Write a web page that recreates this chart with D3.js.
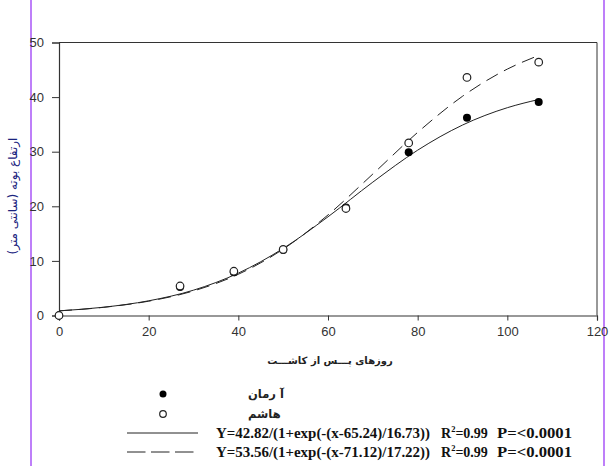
<!DOCTYPE html>
<html>
<head>
<meta charset="utf-8">
<script src="https://cdn.jsdelivr.net/npm/d3@7"></script>
<style>
  html, body { margin: 0; padding: 0; background: #fff; }
  svg { display: block; }
</style>
</head>
<body>
<svg id="chart" width="615" height="466"></svg>
<script>
// ---- data ----
const days = [0, 27, 39, 50, 64, 78, 91, 107];
const armanValues = [0, 5.2, 7.9, 12.0, 19.8, 29.9, 36.2, 39.1];
const hashemValues = [0, 5.4, 8.1, 12.1, 19.6, 31.6, 43.6, 46.4];

const curveDays = [0, 10, 20, 30, 40, 50, 60, 70, 80, 90, 100, 107];
const armanFit = [0.85, 1.52, 2.69, 4.64, 7.76, 12.28, 18.08, 24.43, 30.28, 34.88, 38.06, 39.56];
const hashemFit = [0.85, 1.50, 2.62, 4.50, 7.55, 12.15, 18.42, 25.91, 33.54, 40.15, 45.13, 47.63];

const xTicks = [0, 20, 40, 60, 80, 100, 120];
const yTicks = [0, 10, 20, 30, 40, 50];

const seriesNames = ["آ رمان", "هاشم"];
const equations = [
  "Y=42.82/(1+exp(-(x-65.24)/16.73))",
  "Y=53.56/(1+exp(-(x-71.12)/17.22))"
];
const rSquared = ["0.99", "0.99"];
const pValues = ["P=<0.0001", "P=<0.0001"];
const xLabel = "روزهای پـــس از کاشـــت";
const yLabel = "ارتفاع بوته (سانتی متر)";

// ---- drawing ----
const svg = d3.select("#chart");
const axisColor = "#333";

const x = d3.scaleLinear().domain([0, 120]).range([59, 597]);
const y = d3.scaleLinear().domain([0, 50]).range([315.5, 42.5]);

// purple page borders
svg.append("line").attr("x1", 31).attr("x2", 31).attr("y1", 0).attr("y2", 466)
  .attr("stroke", "#a855f7").attr("stroke-width", 1.5);
svg.append("line").attr("x1", 604).attr("x2", 604).attr("y1", 0).attr("y2", 466)
  .attr("stroke", "#a855f7").attr("stroke-width", 1.5);

// frame top/right
svg.append("line").attr("x1", x(0)).attr("x2", x(120)).attr("y1", y(50)).attr("y2", y(50))
  .attr("stroke", axisColor).attr("stroke-width", 1);
svg.append("line").attr("x1", x(120)).attr("x2", x(120)).attr("y1", y(50)).attr("y2", y(0))
  .attr("stroke", axisColor).attr("stroke-width", 1);

const xAxis = svg.append("g").attr("transform", `translate(0,${y(0)})`)
  .call(d3.axisBottom(x).tickValues(xTicks).tickSize(5).tickPadding(6).tickFormat(d3.format("d")));
const yAxis = svg.append("g").attr("transform", `translate(${x(0)},0)`)
  .call(d3.axisLeft(y).tickValues(yTicks).tickSize(7).tickPadding(8).tickFormat(d3.format("d")));
[xAxis, yAxis].forEach(g => {
  g.select(".domain").attr("stroke", axisColor).attr("stroke-width", 1.2);
  g.selectAll(".tick line").attr("stroke", axisColor);
  g.selectAll(".tick text").attr("fill", "#333")
    .style("font-family", "Liberation Sans, Arial, sans-serif").style("font-size", "13px");
});

// fitted curves
const lineGen = d3.line().x(d => x(d[0])).y(d => y(d[1])).curve(d3.curveMonotoneX);
svg.append("path").datum(curveDays.map((d, i) => [d, armanFit[i]]))
  .attr("d", lineGen).attr("fill", "none").attr("stroke", "#222").attr("stroke-width", 1);
svg.append("path").datum(curveDays.map((d, i) => [d, hashemFit[i]]))
  .attr("d", lineGen).attr("fill", "none").attr("stroke", "#222").attr("stroke-width", 1)
  .attr("stroke-dasharray", "13,7");

// points
svg.append("g").selectAll("circle").data(days.map((d, i) => [d, armanValues[i]]))
  .join("circle").attr("cx", d => x(d[0])).attr("cy", d => y(d[1])).attr("r", 4)
  .attr("fill", "#000");
svg.append("g").selectAll("circle").data(days.map((d, i) => [d, hashemValues[i]]))
  .join("circle").attr("cx", d => x(d[0])).attr("cy", d => y(d[1])).attr("r", 3.8)
  .attr("fill", "#fff").attr("stroke", "#222").attr("stroke-width", 1.2);

// axis titles
svg.append("text").attr("x", 330).attr("y", 364).attr("text-anchor", "middle")
  .attr("direction", "rtl")
  .style("font-family", "DejaVu Sans, sans-serif").style("font-size", "10px").style("font-weight", "bold")
  .attr("fill", "#222").text(xLabel);
svg.append("text").attr("transform", "translate(17,196) rotate(-90)").attr("text-anchor", "middle")
  .attr("direction", "rtl")
  .style("font-family", "DejaVu Sans, sans-serif").style("font-size", "12px")
  .attr("fill", "#1a237e").text(yLabel);

// legend
const legY = [394, 414, 433, 452];
svg.append("circle").attr("cx", 163).attr("cy", legY[0]).attr("r", 3.5).attr("fill", "#000");
svg.append("circle").attr("cx", 163).attr("cy", legY[1]).attr("r", 3.3).attr("fill", "#fff")
  .attr("stroke", "#222").attr("stroke-width", 1.2);
seriesNames.forEach((n, i) => {
  svg.append("text").attr("x", 248).attr("y", legY[i] + 4).attr("text-anchor", "end")
    .attr("direction", "rtl")
    .style("font-family", "DejaVu Sans, sans-serif").style("font-size", "11.5px").style("font-weight", "bold")
    .attr("fill", "#222").text(n);
});
svg.append("line").attr("x1", 127).attr("x2", 198).attr("y1", legY[2]).attr("y2", legY[2])
  .attr("stroke", "#222").attr("stroke-width", 1);
svg.append("line").attr("x1", 127).attr("x2", 193.5).attr("y1", legY[3]).attr("y2", legY[3])
  .attr("stroke", "#222").attr("stroke-width", 1).attr("stroke-dasharray", "18.5,5.5");
const eqFont = (t) => t.style("font-family", "Liberation Serif, Times New Roman, serif")
  .style("font-size", "14px").style("font-weight", "bold").attr("fill", "#111");
equations.forEach((eq, i) => {
  const yy = legY[i + 2] + 5;
  eqFont(svg.append("text").attr("x", 216).attr("y", yy)
    .attr("textLength", 214).attr("lengthAdjust", "spacingAndGlyphs").text(eq));
  const r = eqFont(svg.append("text").attr("x", 441).attr("y", yy));
  r.append("tspan").text("R");
  r.append("tspan").attr("dy", -6).style("font-size", "8.5px").text("2");
  r.append("tspan").attr("dy", 6).text("=" + rSquared[i]);
  eqFont(svg.append("text").attr("x", 497).attr("y", yy)
    .attr("textLength", 75).attr("lengthAdjust", "spacingAndGlyphs").text(pValues[i]));
});
</script>
</body>
</html>
